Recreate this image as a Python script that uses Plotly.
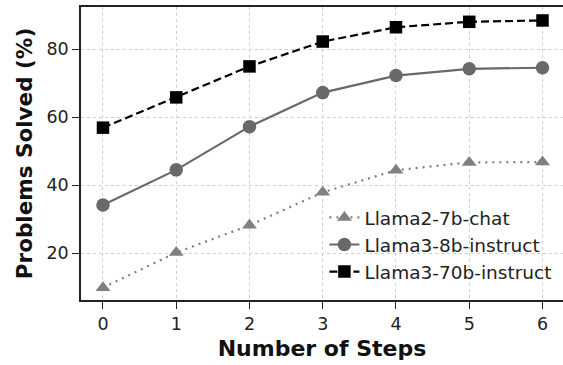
import plotly.graph_objects as go

steps = [0, 1, 2, 3, 4, 5, 6]
llama2_7b_chat = [9.9, 20.2, 28.2, 37.9, 44.4, 46.7, 46.8]
llama3_8b_instruct = [34.2, 44.5, 57.2, 67.2, 72.2, 74.2, 74.5]
llama3_70b_instruct = [56.9, 65.8, 74.9, 82.2, 86.4, 88.0, 88.4]
y_ticks = [20, 40, 60, 80]
x_ticks = [0, 1, 2, 3, 4, 5, 6]

fig = go.Figure()
fig.add_trace(go.Scatter(
    x=steps, y=llama2_7b_chat, name="Llama2-7b-chat", mode="lines+markers",
    line=dict(color="#808080", width=2.2, dash="2px,5px"),
    marker=dict(symbol="triangle-up", size=13, color="#808080"),
))
fig.add_trace(go.Scatter(
    x=steps, y=llama3_8b_instruct, name="Llama3-8b-instruct", mode="lines+markers",
    line=dict(color="#696969", width=2.2),
    marker=dict(symbol="circle", size=13.5, color="#696969"),
))
fig.add_trace(go.Scatter(
    x=steps, y=llama3_70b_instruct, name="Llama3-70b-instruct", mode="lines+markers",
    line=dict(color="#000000", width=2.2, dash="8px,4px"),
    marker=dict(symbol="square", size=12.5, color="#000000"),
))

font_family = "DejaVu Sans"
fig.update_layout(
    width=563, height=365,
    margin=dict(l=81, r=0, t=7, b=65),
    plot_bgcolor="white", paper_bgcolor="white",
    font=dict(family=font_family, size=17.5, color="#222222"),
    showlegend=True,
    legend=dict(
        x=0.505, y=0.345, xanchor="left", yanchor="top",
        bgcolor="rgba(255,255,255,0)", font=dict(size=18.5, color="#222222"),
        tracegroupgap=0, itemwidth=30,
    ),
    xaxis=dict(
        range=[-0.3, 6.28], tickmode="array", tickvals=x_ticks,
        ticktext=[str(v) for v in x_ticks],
        showline=True, linecolor="#222222", linewidth=1.5, mirror=True,
        ticks="outside", ticklen=7, tickwidth=1.3, tickcolor="#222222",
        showgrid=True, gridcolor="#d0d0d0", gridwidth=1, griddash="dot",
        zeroline=False,
        title=dict(text="<b>Number of Steps</b>", font=dict(size=22, color="#111111"), standoff=8),
    ),
    yaxis=dict(
        range=[6.27, 92.35], tickmode="array", tickvals=y_ticks,
        ticktext=[str(v) for v in y_ticks],
        showline=True, linecolor="#222222", linewidth=1.5, mirror=False,
        ticks="outside", ticklen=7, tickwidth=1.3, tickcolor="#222222",
        showgrid=True, gridcolor="#d0d0d0", gridwidth=1, griddash="dot",
        zeroline=False,
        title=dict(text="<b>Problems Solved (%)</b>", font=dict(size=21.5, color="#111111"), standoff=8),
    ),
)

fig.write_html("out.html")
